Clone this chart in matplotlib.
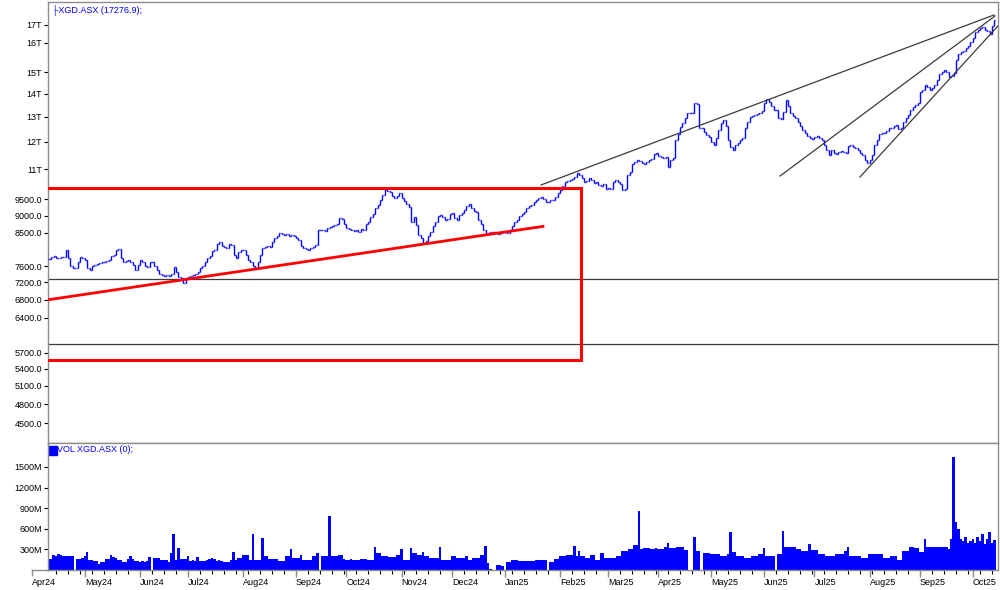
import numpy as np
import pandas as pd
import matplotlib
matplotlib.use('Agg')
import matplotlib.pyplot as plt
import matplotlib.transforms as mtransforms
from matplotlib.collections import LineCollection
from matplotlib.patches import Rectangle

plt.rcParams.update({
    'font.family': ['Liberation Sans', 'DejaVu Sans'],
    'font.size': 6.5,
})

# every weekday on the chart (holidays stay as empty days, like the original)
days = pd.bdate_range('2024-04-01', '2025-10-14')
FIRST = 7  # first bar = 10 Apr 2024

# ---- daily closes ----
c_apr24 = [7780, 7830, 7870, 7800, 7800, 7830, 7850, 8020, 7800, 7610, 7560, 7560, 7710, 7830, 7800]
c_may24 = [7760, 7550, 7505, 7610, 7630, 7660, 7680, 7710, 7710, 7735, 7760, 7865, 7890, 8020, 8050,
           7810, 7710, 7735, 7760, 7710, 7630, 7505, 7630]
c_jun24 = [7760, 7710, 7610, 7585, 7710, 7710, 7610, 7505, 7405, 7382, 7357, 7382, 7357, 7405, 7585,
           7455, 7333, 7310, 7190, 7310]
c_jul24 = [7333, 7357, 7382, 7405, 7455, 7555, 7610, 7710, 7810, 7865, 7995, 8020, 8185, 8240, 8130,
           8105, 8080, 8185, 8158, 7890, 7810, 7970, 8020]
c_aug24 = [8020, 7890, 7760, 7710, 7610, 7555, 7710, 7890, 8080, 8105, 8130, 8105, 8240, 8350, 8405,
           8490, 8462, 8434, 8462, 8405, 8434, 8405]
c_sep24 = [8350, 8295, 8130, 8080, 8050, 8020, 8080, 8105, 8158, 8576, 8576, 8576, 8548, 8634, 8662,
           8690, 8720, 8749, 8926, 8896, 8749]
c_oct24 = [8634, 8605, 8576, 8548, 8576, 8520, 8605, 8576, 8749, 8808, 8956, 9046, 9230, 9321, 9478,
           9637, 9832, 9766, 9733, 9604, 9541, 9604, 9700]
c_nov24 = [9541, 9446, 9353, 9260, 8808, 8956, 8720, 8434, 8350, 8213, 8267, 8405, 8520, 8690, 8808,
           8986, 9016, 8956, 8867, 8896, 9046]
c_dec24 = [9077, 8926, 8867, 9016, 9077, 9168, 9290, 9353, 9230, 9138, 9107, 8867, 8749, 8576, 8462,
           8490, 8520, 8520, 8520, 8462, 8490, 8520]
c_jan25 = [8520, 8490, 8576, 8690, 8808, 8867, 8986, 9046, 9107, 9230, 9290, 9321, 9416, 9478, 9541,
           9573, 9509, 9416, 9416, 9478, 9478, 9573, 9700]
c_feb25 = [9799, 9930, 10063, 10097, 10131, 10165, 10233, 10370, 10302, 10199, 10063, 10097, 10199,
           10131, 10030, 10063, 9963, 9930, 9997, 9832]
c_mar25 = [9865, 9832, 10063, 10131, 10063, 9997, 9799, 9832, 10302, 10406, 10686, 10758, 10830, 10794,
           10722, 10686, 10758, 10830, 10867, 11049, 11086]
c_apr25 = [10975, 10939, 10903, 10939, 10580, 10830, 10903, 11576, 11810, 12090, 12252, 12457, 12667,
           12667, 12667, 13100, 13055, 12048, 12048, 11890, 11771, 11692]
c_may25 = [11500, 11385, 11653, 11969, 12252, 12374, 12130, 11576, 11310, 11197, 11385, 11462, 11576,
           11653, 12048, 12292, 12500, 12541, 12583, 12625, 12667, 12751]
c_jun25 = [13100, 13273, 13140, 12966, 12794, 12794, 12457, 12415, 12710, 13228, 12966, 12667, 12541,
           12457, 12292, 12130, 11969, 11850, 11731, 11653, 11615]
c_jul25 = [11692, 11731, 11653, 11576, 11385, 11197, 11012, 11197, 11085, 11049, 11122, 11160, 11122,
           11085, 11347, 11385, 11310, 11272, 11197, 11085, 11012, 10830, 10722]
c_aug25 = [10830, 11012, 11385, 11576, 11810, 11850, 11850, 11929, 12048, 12048, 12130, 12170, 12009,
           12048, 12292, 12457, 12583, 12794, 12923, 13009, 13100]
c_sep25 = [13583, 13675, 13905, 13810, 13675, 13766, 13905, 14139, 14425, 14522, 14619, 14522, 14282,
           14330, 14473, 15114, 15419, 15523, 15575, 15732, 15836, 16049]
c_oct25 = [16265, 16596, 16704, 16817, 16870, 16704, 16650, 16484, 16930, 17276.9]

# ---- daily volume (millions) ----
v_apr24 = [165, 160, 216, 210, 235, 215, 205, 200, 205, 210, 205, 0, 167, 165, 170]
v_may24 = [205, 260, 150, 145, 135, 130, 84, 120, 118, 165, 160, 220, 185, 180, 150, 150, 120, 120,
           165, 205, 165, 135, 130]
v_jun24 = [120, 135, 120, 130, 190, 0, 180, 175, 180, 150, 150, 140, 120, 250, 520, 150, 323, 165, 160, 165]
v_jul24 = [205, 135, 140, 135, 190, 135, 130, 135, 140, 165, 170, 165, 135, 140, 130, 110, 110, 115,
           150, 260, 150, 180, 180]
v_aug24 = [220, 220, 215, 140, 520, 140, 140, 140, 470, 200, 200, 160, 160, 165, 160, 128, 128, 130,
           200, 200, 300, 170]
v_sep24 = [170, 170, 215, 150, 150, 150, 150, 200, 200, 250, 0, 200, 200, 200, 790, 200, 200, 210, 215,
           215, 165]
v_oct24 = [150, 150, 155, 150, 150, 150, 165, 165, 160, 150, 150, 150, 335, 250, 250, 200, 200, 200,
           185, 185, 185, 225, 225]
v_nov24 = [300, 150, 150, 150, 320, 250, 250, 215, 215, 260, 200, 200, 170, 170, 170, 170, 330, 150,
           150, 150, 150]
v_dec24 = [200, 200, 170, 170, 170, 170, 200, 150, 150, 170, 170, 170, 225, 225, 350, 105, 15, 0, 0,
           70, 70, 60]
v_jan25 = [0, 118, 118, 140, 140, 140, 128, 128, 125, 128, 130, 128, 128, 140, 140, 140, 140, 140, 0,
           118, 118, 165, 165]
v_feb25 = [200, 200, 200, 225, 225, 225, 350, 200, 270, 200, 200, 170, 170, 215, 215, 150, 150, 250,
           250, 170]
v_mar25 = [170, 170, 170, 170, 200, 200, 270, 270, 270, 300, 300, 370, 370, 860, 300, 320, 320, 320,
           300, 300, 320]
v_apr25 = [300, 300, 300, 340, 400, 315, 315, 315, 330, 330, 330, 290, 290, 0, 0, 480, 280, 280, 0,
           245, 245, 245]
v_may25 = [240, 240, 240, 240, 210, 210, 210, 240, 550, 260, 260, 210, 210, 210, 180, 180, 180, 210,
           210, 210, 240, 240]
v_jun25 = [320, 210, 210, 210, 210, 0, 240, 240, 570, 340, 340, 340, 340, 340, 300, 300, 280, 280,
           280, 380, 290]
v_jul25 = [290, 290, 240, 240, 240, 210, 210, 210, 210, 240, 240, 240, 240, 270, 340, 210, 210, 210,
           210, 210, 180, 180, 180]
v_aug25 = [230, 230, 230, 230, 230, 230, 180, 180, 180, 210, 210, 210, 150, 150, 270, 270, 270, 340,
           340, 320, 320]
v_sep25 = [260, 260, 450, 330, 330, 330, 330, 330, 340, 340, 340, 340, 300, 450, 1650, 700, 600, 450,
           420, 480, 400, 420]
v_oct25 = [450, 400, 480, 420, 520, 380, 450, 560, 400, 430]

closes = np.array(c_apr24 + c_may24 + c_jun24 + c_jul24 + c_aug24 + c_sep24 + c_oct24 + c_nov24
                  + c_dec24 + c_jan25 + c_feb25 + c_mar25 + c_apr25 + c_may25 + c_jun25 + c_jul25
                  + c_aug25 + c_sep25 + c_oct25, dtype=float)
volume = np.array(v_apr24 + v_may24 + v_jun24 + v_jul24 + v_aug24 + v_sep24 + v_oct24 + v_nov24
                  + v_dec24 + v_jan25 + v_feb25 + v_mar25 + v_apr25 + v_may25 + v_jun25 + v_jul25
                  + v_aug25 + v_sep25 + v_oct25, dtype=float) * 1e6

# ---- drawn annotations (bar index, price) ----
box_right = 228.75
box_top, box_bottom = 9848, 5560
red_trend = [(6.25, 6792), (212.9, 8679)]
black_trends = [
    [(212.1, 9964), (400.8, 17560)],
    [(311.7, 10267), (401.25, 17502)],
    [(345.0, 10234), (402.5, 16933)],
]
h_levels = [7277, 5864]

price_ticks = [17000, 16000, 14500, 13500, 12500, 11500, 10500, 9500, 9000, 8500, 7600, 7200,
               6800, 6400, 5700, 5400, 5100, 4800, 4500]
price_labels = ['17T', '16T', '15T', '14T', '13T', '12T', '11T', '9500.0', '9000.0', '8500.0',
                '7600.0', '7200.0', '6800.0', '6400.0', '5700.0', '5400.0', '5100.0', '4800.0', '4500.0']
vol_ticks = [300e6, 600e6, 900e6, 1200e6, 1500e6]
vol_labels = ['300M', '600M', '900M', '1200M', '1500M']

BLUE = '#0000ff'
FRAME = '#8c8c8c'

x = np.arange(FIRST, len(days))
opens = np.r_[closes[0], closes[:-1]]

W, H = 1000, 590
fig = plt.figure(figsize=(10, 5.9), dpi=100)
L, R = 47.7 / W, 998 / W
ax_p = fig.add_axes([L, 1 - 443 / H, R - L, 441 / H])
ax_v = fig.add_axes([L, 1 - 570 / H, R - L, 127 / H], sharex=ax_p)

XL = (6.54, 402.5)

# ---- price panel ----
segs = []
for xi, o, c in zip(x, opens, closes):
    segs.append([(xi, min(o, c)), (xi, max(o, c))])
    segs.append([(xi - 0.45, o), (xi, o)])
    segs.append([(xi, c), (xi + 0.45, c)])
ax_p.add_collection(LineCollection(segs, colors=BLUE, linewidths=1.0, zorder=3))

ax_p.set_yscale('log')
ax_p.set_xlim(*XL)
ax_p.set_ylim(4216, 18337)
ax_p.set_yticks(price_ticks)
ax_p.set_yticklabels(price_labels)
ax_p.yaxis.set_minor_locator(matplotlib.ticker.NullLocator())
ax_p.tick_params(axis='y', direction='out', length=3, width=0.8, pad=1, labelsize=6.5)
ax_p.tick_params(axis='x', bottom=False, labelbottom=False)

for y in h_levels:
    ax_p.axhline(y, color='#3a3a3a', lw=0.9, zorder=2)

# red box: open on the left, where it sits on the price axis
ax_p.plot([XL[0], box_right, box_right, XL[0]], [box_top, box_top, box_bottom, box_bottom],
          color='#ff0000', lw=2.2, zorder=4, solid_joinstyle='miter')
ax_p.plot(*zip(*red_trend), color='#ff0000', lw=2.0, zorder=4)
for seg in black_trends:
    ax_p.plot(*zip(*seg), color='#3a3a3a', lw=0.9, zorder=4)

ax_p.text(0.0045, 0.983, '\u251cXGD.ASX (17276.9);', transform=ax_p.transAxes, color=BLUE,
          fontsize=6.5, ha='left', va='center')

# ---- volume panel ----
ax_v.bar(x, volume, width=1.0, color=BLUE, linewidth=0, antialiased=False, zorder=2)
ax_v.set_ylim(0, 1849e6)
ax_v.set_yticks(vol_ticks)
ax_v.set_yticklabels(vol_labels)
ax_v.tick_params(axis='y', direction='out', length=3, width=0.8, pad=1, labelsize=6.5)

ax_v.add_patch(Rectangle((0.0014, 0.906), 0.0084, 0.07, transform=ax_v.transAxes,
                         color=BLUE, clip_on=False))
ax_v.text(0.0100, 0.945, 'VOL XGD.ASX (0);', transform=ax_v.transAxes, color=BLUE,
          fontsize=6.5, ha='left', va='center')

# month ticks (first weekday of each month) + weekly minor ticks on Mondays
month_start = np.r_[0, np.flatnonzero(days.month[1:] != days.month[:-1]) + 1]
mondays = np.flatnonzero(days.weekday == 0)
ax_v.set_xticks(month_start[month_start >= XL[0]])
ax_v.set_xticks([m for m in mondays if m >= XL[0] and m not in month_start], minor=True)
ax_v.tick_params(axis='x', which='major', direction='out', length=5, width=1.0, color=FRAME,
                 labelbottom=False)
ax_v.tick_params(axis='x', which='minor', direction='out', length=3, width=0.8, color='black')
blend = mtransforms.blended_transform_factory(ax_v.transData, ax_v.transAxes)
for m in month_start:
    ax_v.annotate(days[m].strftime('%b%y'), xy=(m, 0), xycoords=blend, xytext=(0, -5.5),
                  textcoords='offset points', ha='left', va='top', fontsize=6.5,
                  annotation_clip=False)
    if m < XL[0]:
        ax_v.plot([m, m], [0, -0.04], transform=blend, color=FRAME, lw=1.0, clip_on=False)
        ax_v.plot([m, XL[0]], [0, 0], transform=blend, color=FRAME, lw=1.0, clip_on=False)

for ax in (ax_p, ax_v):
    for s in ax.spines.values():
        s.set_color(FRAME)
        s.set_linewidth(1.0)

fig.savefig('out.png', dpi=100, facecolor='white')
